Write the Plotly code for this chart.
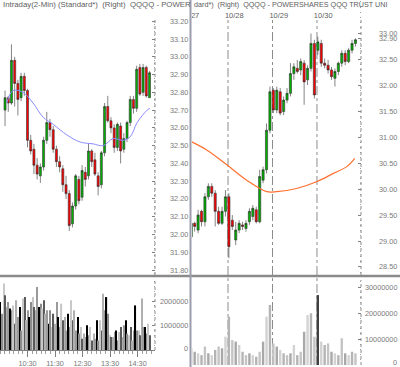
import plotly.graph_objects as go
import pandas as pd

# ---------------- LEFT PANEL: Intraday (2-Min) ----------------
left_date = "2008-10-31"
left_open = [32.70, 32.77, 32.74, 32.98, 32.85, 32.77, 32.89, 32.81, 32.53, 32.48, 32.39, 32.33, 32.38, 32.53, 32.63, 32.59,
             32.48, 32.41, 32.37, 32.28, 32.23, 32.06, 32.16, 32.31, 32.21, 32.35, 32.33, 32.47, 32.42, 32.33, 32.28, 32.46,
             32.72, 32.64, 32.60, 32.49, 32.61, 32.48, 32.54, 32.63, 32.76, 32.71, 32.94, 32.80, 32.94, 32.77]
left_high = [32.81, 32.78, 33.07, 33.00, 32.87, 32.91, 32.91, 32.82, 32.56, 32.51, 32.43, 32.40, 32.55, 32.69, 32.65, 32.61,
             32.50, 32.44, 32.39, 32.33, 32.25, 32.18, 32.34, 32.33, 32.39, 32.38, 32.51, 32.48, 32.46, 32.35, 32.47, 32.74,
             32.78, 32.66, 32.62, 32.63, 32.63, 32.57, 32.64, 32.78, 32.78, 32.95, 32.96, 32.96, 32.95, 32.92]
left_low = [32.61, 32.69, 32.73, 32.72, 32.67, 32.75, 32.78, 32.49, 32.45, 32.34, 32.31, 32.29, 32.36, 32.51, 32.55, 32.46,
            32.38, 32.35, 32.24, 32.20, 32.02, 32.04, 32.14, 32.17, 32.19, 32.27, 32.31, 32.38, 32.33, 32.22, 32.26, 32.44,
            32.63, 32.57, 32.46, 32.47, 32.40, 32.46, 32.52, 32.61, 32.68, 32.69, 32.78, 32.78, 32.77, 32.77]
left_close = [32.77, 32.74, 32.98, 32.85, 32.76, 32.89, 32.81, 32.53, 32.47, 32.39, 32.34, 32.38, 32.53, 32.63, 32.59, 32.48,
              32.41, 32.38, 32.28, 32.23, 32.05, 32.16, 32.33, 32.19, 32.36, 32.31, 32.47, 32.41, 32.34, 32.27, 32.46, 32.72,
              32.64, 32.60, 32.49, 32.62, 32.47, 32.54, 32.63, 32.76, 32.71, 32.93, 32.79, 32.94, 32.78, 32.91]
left_ma_times = ["09:45", "09:58", "10:20", "10:42", "11:04", "11:26", "11:56", "12:25", "12:53", "13:15", "13:37",
                 "13:58", "14:14", "14:29", "14:51", "14:57"]
left_ma_values = [32.74, 32.81, 32.80, 32.74, 32.66, 32.62, 32.56, 32.52, 32.51, 32.50, 32.54, 32.53, 32.55, 32.63,
                  32.70, 32.71]
left_volume_m = [1.96, 1.48, 2.71, 2.23, 1.75, 1.96, 1.69, 1.62, 1.82, 1.07,
                 2.03, 1.35, 1.75, 0.80, 2.10, 2.16, 1.21, 1.62, 1.35, 1.96,
                 2.16, 1.75, 1.62, 2.57, 1.75, 1.89, 1.69, 2.03, 1.48, 1.62,
                 1.07, 1.62, 0.94, 1.48, 1.07, 1.96, 1.35, 0.94, 1.89, 1.21,
                 1.35, 0.80, 1.48, 0.94, 2.03, 1.21, 1.62, 0.80, 1.35, 0.67,
                 0.94, 0.46, 0.67, 0.53, 1.01, 0.60, 0.94, 0.39, 0.67, 0.46,
                 1.21, 0.39, 1.21, 0.80, 2.30, 1.62, 2.16, 1.48, 0.60, 0.53,
                 0.53, 0.73, 0.80, 0.39, 0.73, 0.94, 0.53, 1.01, 1.21, 0.67,
                 0.60, 0.94, 0.39, 0.80, 1.82, 0.80, 0.80, 0.60, 2.10, 0.94,
                 0.94, 0.67, 1.07, 0.60]
left_time_ticks = ["10:30", "11:30", "12:30", "13:30", "14:30"]
left_price_ticks = [33.20, 33.10, 33.00, 32.90, 32.80, 32.70, 32.60, 32.50, 32.40, 32.30, 32.20, 32.10, 32.00, 31.90, 31.80]
left_volume_ticks = [0, 1000000, 2000000]
left_title = "Intraday(2-Min) (Standard*)\u00a0 (Right)\u00a0 QQQQ - POWER"

# ---------------- RIGHT PANEL: multi-day (13 bars per session) ----------------
day_labels = ["10/27", "10/28", "10/29", "10/30"]
bars_per_day = 13
bars_shown = [(0, 2, 13), (1, 0, 13), (2, 0, 13), (3, 0, 12)]  # (day, first bar, end bar)
right_open = [29.08, 29.34, 29.21, 29.57, 29.37, 29.85, 30.05, 29.92, 29.57, 29.34, 29.57,
              29.85, 29.40, 29.02, 29.21, 29.31, 29.24, 29.37, 29.47, 29.60, 29.37, 30.17, 30.37, 31.13,
              31.90, 31.52, 31.87, 31.49, 31.71, 31.84, 32.22, 32.32, 32.29, 32.42, 32.10, 32.32, 32.80,
              32.67, 32.80, 32.42, 32.38, 32.29, 32.13, 32.26, 32.42, 32.61, 32.45, 32.67, 32.80]
right_high = [29.40, 29.37, 29.60, 29.60, 29.92, 30.11, 30.11, 29.98, 29.66, 29.66, 29.98,
              29.92, 29.50, 29.37, 29.40, 29.37, 29.40, 29.63, 29.69, 29.66, 30.37, 30.43, 31.26, 31.97,
              31.94, 31.97, 31.94, 31.78, 31.94, 32.42, 32.42, 32.48, 32.51, 32.48, 32.38, 32.99, 32.87,
              32.93, 32.87, 32.51, 32.48, 32.35, 32.32, 32.45, 32.67, 32.67, 32.71, 32.87, 32.90]
right_low = [29.02, 29.18, 29.15, 29.28, 29.28, 29.79, 29.85, 29.28, 29.31, 29.31, 29.47,
             28.67, 29.21, 28.92, 29.15, 29.21, 29.18, 29.31, 29.40, 29.34, 29.34, 30.11, 30.30, 31.07,
             31.46, 31.46, 31.42, 31.42, 31.65, 31.78, 32.10, 32.22, 32.19, 31.62, 32.00, 32.26, 31.74,
             32.58, 32.35, 32.32, 32.22, 32.10, 31.97, 32.19, 32.35, 32.38, 32.42, 32.61, 32.74]
right_close = [29.34, 29.28, 29.50, 29.37, 29.85, 30.05, 29.92, 29.57, 29.34, 29.57, 29.85,
               28.89, 29.28, 29.21, 29.34, 29.28, 29.34, 29.57, 29.63, 29.37, 30.24, 30.37, 31.13, 31.87,
               31.52, 31.90, 31.46, 31.71, 31.84, 32.22, 32.35, 32.26, 32.45, 32.06, 32.32, 32.80, 31.81,
               32.83, 32.42, 32.38, 32.29, 32.16, 32.26, 32.42, 32.61, 32.45, 32.67, 32.80, 32.87]
right_volume_m = [6.4, 5.1, 4.5, 3.8, 7.1, 4.5, 3.8, 5.8, 7.1, 6.4, 10.9,
                  18.6, 9.6, 9.0, 7.7, 5.1, 3.8, 4.5, 3.8, 3.2, 5.1, 9.0, 18.6, 23.1,
                  8.3, 7.1, 5.8, 4.5, 3.8, 4.5, 7.7, 3.8, 5.1, 12.8, 19.2, 19.9, 10.9,
                  26.9, 9.0, 7.7, 8.3, 5.1, 4.5, 3.8, 10.3, 4.5, 3.8, 5.1, 4.5]
right_ma_days = [0.15, 0.52, 0.98, 1.42, 1.87, 2.09, 2.54, 2.99, 3.37, 3.67, 3.85]
right_ma_values = [30.92, 30.75, 30.46, 30.17, 29.95, 29.95, 30.01, 30.14, 30.30, 30.43, 30.59]
right_price_ticks = [33.00, 32.90, 32.50, 32.00, 31.50, 31.00, 30.50, 30.00, 29.50, 29.00, 28.50]
right_volume_ticks = [0, 10000000, 20000000, 30000000]
right_title = "dard*)\u00a0 (Right)\u00a0 QQQQ - POWERSHARES QQQ TRUST UNI"

# ---------------- geometry helpers ----------------
W, H = 400, 367
def fx(px):
    return px / W
def fy(py):
    return 1 - py / H

FONT = "Liberation Sans, Arial, sans-serif"
LBL = dict(family=FONT, size=7.3, color="#7a7a7a")
UP, DOWN, EDGE = "#00b000", "#ff0000", "#303030"

fig = go.Figure()

# left candles
lt = pd.date_range(f"{left_date} 09:41", periods=len(left_open), freq="7min")
fig.add_trace(go.Candlestick(
    x=lt, open=left_open, high=left_high, low=left_low, close=left_close,
    xaxis="x", yaxis="y", whiskerwidth=0, hoverinfo="skip",
    increasing=dict(fillcolor=UP, line=dict(color=EDGE, width=0.6)),
    decreasing=dict(fillcolor=DOWN, line=dict(color=EDGE, width=0.6))))
fig.add_trace(go.Scatter(
    x=pd.to_datetime([f"{left_date} {t}" for t in left_ma_times]), y=left_ma_values,
    mode="lines", line=dict(color="#8c8cff", width=1, shape="spline"), xaxis="x", yaxis="y", hoverinfo="skip"))

# left volume
lvt = pd.date_range(f"{left_date} 09:31", f"{left_date} 14:57", periods=len(left_volume_m))
lv_palette = ["#000000", "#8c8c8c", "#c8c8c8", "#5a5a5a", "#b0b0b0", "#9a9a9a"]
fig.add_trace(go.Bar(
    x=lvt, y=[v * 1e6 for v in left_volume_m], xaxis="x2", yaxis="y2",
    marker=dict(color=[lv_palette[i % len(lv_palette)] for i in range(len(left_volume_m))], line=dict(width=0)),
    hoverinfo="skip"))

# right x positions (session bars)
rx = []
for d, k0, k1 in bars_shown:
    for k in range(k0, k1):
        rx.append(d + (k + 0.25) / bars_per_day)

fig.add_trace(go.Candlestick(
    x=rx, open=right_open, high=right_high, low=right_low, close=right_close,
    xaxis="x3", yaxis="y3", whiskerwidth=0, hoverinfo="skip",
    increasing=dict(fillcolor=UP, line=dict(color=EDGE, width=0.6)),
    decreasing=dict(fillcolor=DOWN, line=dict(color=EDGE, width=0.6))))
fig.add_trace(go.Scatter(
    x=right_ma_days, y=right_ma_values, mode="lines",
    line=dict(color="#ff7030", width=1.2, shape="spline"), xaxis="x3", yaxis="y3", hoverinfo="skip"))
# day labels (clipped to the right panel)
fig.add_trace(go.Scatter(
    x=[d - 0.07 for d in range(len(day_labels))], y=[33.33] * len(day_labels),
    mode="text", text=day_labels, textposition="middle right",
    textfont=dict(family=FONT, size=7.5, color="#606060"), cliponaxis=True,
    xaxis="x3", yaxis="y3", hoverinfo="skip"))

rv_palette = ["#c4c4c4", "#a8a8a8", "#d2d2d2", "#b4b4b4"]
rv_colors = [("#404040" if v > 24 else rv_palette[i % len(rv_palette)]) for i, v in enumerate(right_volume_m)]
fig.add_trace(go.Bar(
    x=rx, y=[v * 1e6 for v in right_volume_m], xaxis="x4", yaxis="y4",
    marker=dict(color=rv_colors, line=dict(width=0)), hoverinfo="skip"))

left_range_x = [f"{left_date} 09:30", f"{left_date} 15:08"]
lp_range = [31.772, 33.224]
lv_range = [0, 2.857e6]
rp_range = [28.346, 33.635]
rv_range = [0, 32.7e6]

hidden_x = dict(showticklabels=False, ticks="", showgrid=False, zeroline=False, showline=False)
base_y = dict(showgrid=False, zeroline=False, showline=False, showticklabels=False,
              ticks="inside", ticklen=3, tickcolor="#808080", side="right")

fig.update_layout(
    width=W, height=H, margin=dict(l=0, r=0, t=0, b=0),
    paper_bgcolor="white", plot_bgcolor="rgba(0,0,0,0)",
    showlegend=False, boxgap=0.1, bargap=0.3,
    xaxis=dict(domain=[0, fx(155)], range=left_range_x, anchor="y",
               rangeslider=dict(visible=False), **hidden_x),
    yaxis=dict(domain=[fy(275), fy(17)], range=lp_range, anchor="x", tickvals=left_price_ticks,
               minor=dict(ticks="inside", ticklen=1.5, dtick=0.02, tick0=31.8, tickcolor="#a0a0a0"), **base_y),
    xaxis2=dict(domain=[0, fx(155)], range=left_range_x, anchor="y2", matches="x",
                showline=True, linecolor="#808080", linewidth=1, ticks="outside", ticklen=6,
                tickcolor="#808080", showgrid=False, zeroline=False,
                tickvals=[f"{left_date} {t}" for t in left_time_ticks], ticktext=left_time_ticks,
                tickfont=LBL,
                minor=dict(ticks="outside", ticklen=3, dtick=600000, tickcolor="#a0a0a0")),
    yaxis2=dict(domain=[fy(350), fy(280)], range=lv_range, anchor="x2", tickvals=left_volume_ticks,
                minor=dict(ticks="inside", ticklen=1.5, dtick=200000, tickcolor="#a0a0a0"), **base_y),
    xaxis3=dict(domain=[fx(192), fx(361)], range=[0.19, 3.99], anchor="y3",
                rangeslider=dict(visible=False), **hidden_x),
    yaxis3=dict(domain=[fy(275), 1.0], range=rp_range, anchor="x3", tickvals=right_price_ticks,
                minor=dict(ticks="inside", ticklen=1.5, dtick=0.1, tick0=28.5, tickcolor="#a0a0a0"), **base_y),
    xaxis4=dict(domain=[fx(192), fx(361)], range=[0.19, 3.99], anchor="y4", matches="x3", **hidden_x),
    yaxis4=dict(domain=[fy(365), fy(280)], range=rv_range, anchor="x4", tickvals=right_volume_ticks,
                minor=dict(ticks="inside", ticklen=1.5, dtick=2000000, tickcolor="#a0a0a0"), **base_y),
)

# right-aligned axis labels (placed on each axis' own scale)
def add_labels(values, texts, yref, xpx, zero_shift=0):
    for v, t in zip(values, texts):
        fig.add_annotation(x=fx(xpx), xref="paper", y=v, yref=yref, xanchor="right", yanchor="middle",
                           text=t, showarrow=False, font=LBL, borderpad=0,
                           yshift=(zero_shift if v == 0 else 0))

add_labels(left_price_ticks, [f"{v:.2f}" for v in left_price_ticks], "y", 189)
add_labels(left_volume_ticks, [str(v) for v in left_volume_ticks], "y2", 189, zero_shift=2)
add_labels(right_price_ticks, [f"{v:.2f}" for v in right_price_ticks], "y3", 398)
add_labels(right_volume_ticks, [str(v) for v in right_volume_ticks], "y4", 398, zero_shift=3)

shapes = []
# dotted axis lines
for xp, segs in [(155, [(17, 275), (280, 350)]), (361, [(20, 275), (280, 365)])]:
    for a, b in segs:
        shapes.append(dict(type="line", xref="paper", yref="paper", x0=fx(xp), x1=fx(xp), y0=fy(b), y1=fy(a),
                           line=dict(color="#8a8a8a", width=1, dash="dot")))
# day separators
for d in range(1, len(day_labels)):
    shapes.append(dict(type="line", xref="x3", yref="paper", x0=d, x1=d, y0=fy(365), y1=fy(20),
                       layer="below", line=dict(color="#8c8c8c", width=1, dash="dashdot")))
# pane separators
shapes.append(dict(type="line", xref="paper", yref="paper", x0=0, x1=1, y0=fy(276), y1=fy(276),
                   line=dict(color="#8a8a8a", width=2.5)))
shapes.append(dict(type="line", xref="paper", yref="paper", x0=fx(190.5), x1=fx(190.5), y0=0, y1=1,
                   line=dict(color="#9c9cac", width=2)))
fig.update_layout(shapes=shapes)

fig.add_annotation(x=fx(1), y=fy(5), xref="paper", yref="paper", xanchor="left", yanchor="middle",
                   text=left_title, showarrow=False, font=dict(family=FONT, size=7.8, color="#606060"))
fig.add_annotation(x=fx(192), y=fy(5), xref="paper", yref="paper", xanchor="left", yanchor="middle",
                   text=right_title, showarrow=False, font=dict(family=FONT, size=7.2, color="#606060"))

# remove the browser's default body margin so the 400x367 figure fills the window exactly
fig.write_html("out.html", config={"displayModeBar": False},
               post_script="document.body.style.margin='0px';")
